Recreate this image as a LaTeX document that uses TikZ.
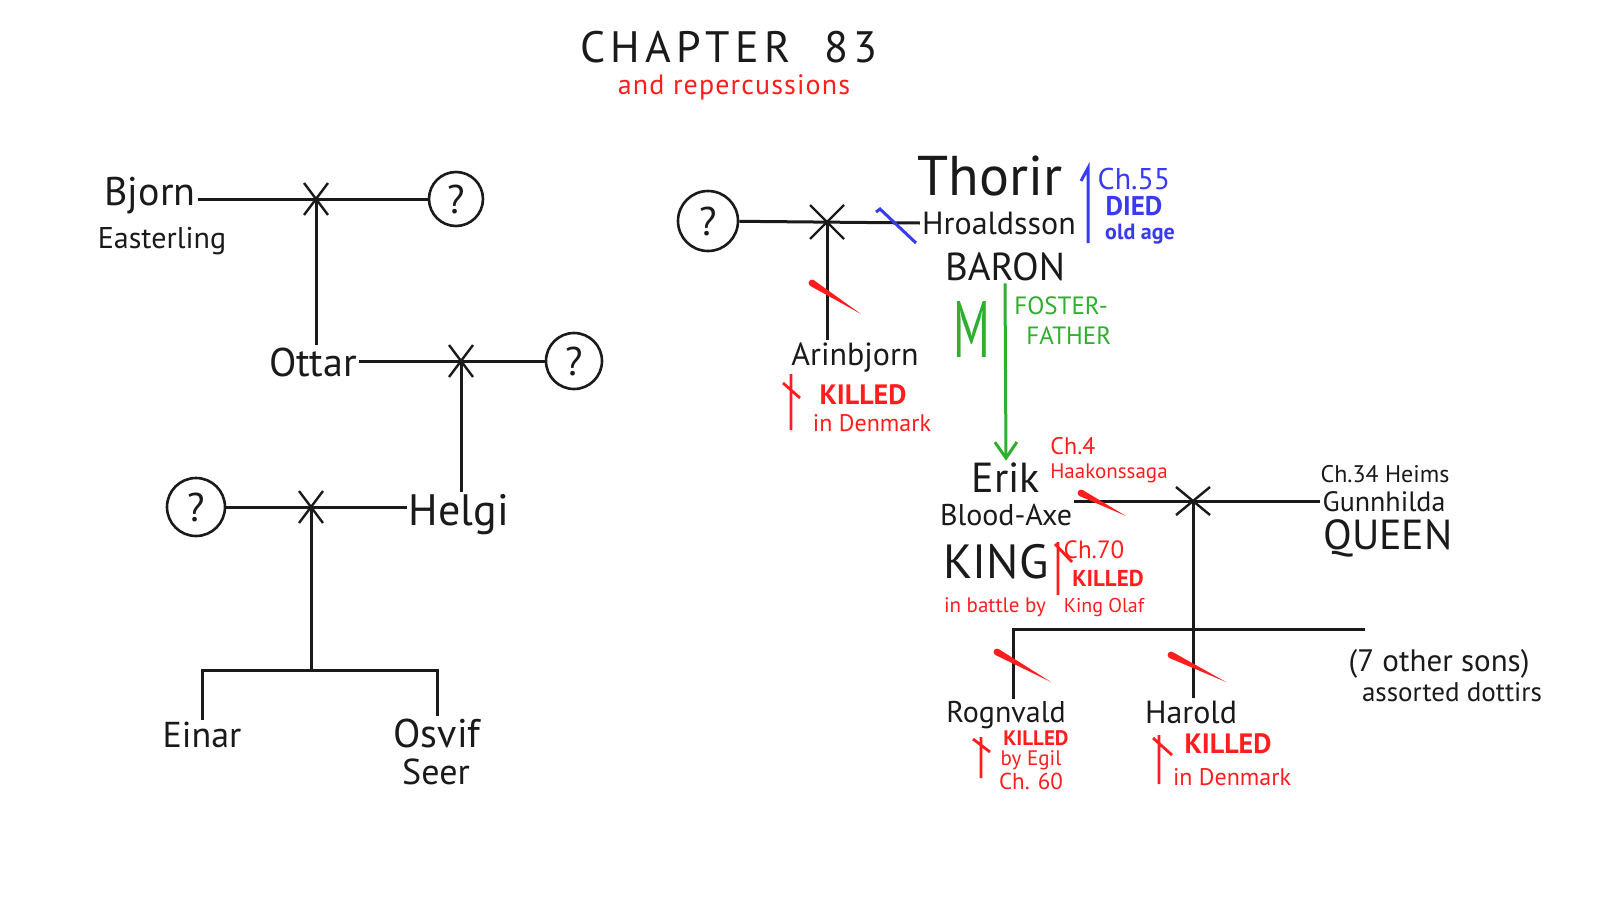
\documentclass[tikz,border=0pt]{standalone}
\usepackage{fontspec}
\setmainfont{PT Sans}
\usetikzlibrary{arrows.meta,positioning,shapes.misc,calc}
\definecolor{ink}{HTML}{1A1A1A}
\definecolor{kill}{HTML}{FF1E1E}
\definecolor{sky}{HTML}{3A3AF5}
\definecolor{fgreen}{HTML}{2EB02E}
\newcommand{\fsz}[1]{\fontsize{#1}{#1}\selectfont}
\newcommand{\slashmark}[2]{\fill[kill] ($#1!1.7pt!90:#2$) -- #2 -- ($#1!1.7pt!-90:#2$) -- cycle;
    \fill[kill] #1 circle[radius=1.7pt];}

\begin{document}
\begin{tikzpicture}[
    x=0.5pt, y=-0.5pt,
    kin/.style={draw=ink, line width=1.5pt},
    wed/.style={cross out, draw=ink, line width=1.2pt, inner sep=0pt, outer sep=0pt,
        minimum width=12pt, minimum height=16pt},
    unk/.style={circle, draw=ink, line width=1.3pt, inner sep=0pt, minimum size=27pt,
        text=ink, font=\fsz{20}},
    person/.style={inner sep=1pt, text=ink, text depth=0pt},
    note/.style={inner sep=0pt, text=kill},
    blue/.style={inner sep=0pt, text=sky},
    dag/.style={draw=kill, line width=1.4pt},
    foster/.style={draw=fgreen, line width=1.5pt, -{Straight Barb[length=8pt,width=11pt]}}
]
\fill[white] (0,0) rectangle (1600,900);
\useasboundingbox (0,0) rectangle (1600,900);
% Title
\node[text=ink, font=\fsz{22}\addfontfeatures{LetterSpace=12}] (title) at (729,47) {CHAPTER~~83};
\node[note, font=\fsz{14}\addfontfeatures{LetterSpace=4}] (sub) at (734,87) {and~repercussions};
% Bjorn Easterling
\node[person, font=\fsz{20}] (bjorn) at (150,191) {Bjorn};
\node[person, font=\fsz{15}] (east) at (162,238) {Easterling};
\node[wed] (w1) at (316,199) {};
\node[unk] (q1) at (456,199) {?};
\draw[kin] (bjorn.east |- w1) -- (q1);
% Ottar
\node[person, font=\fsz{20}] (ottar) at (313,362) {Ottar};
\draw[kin] (w1.center) -- (w1.center |- ottar.north);
\node[wed] (w2) at (461,361) {};
\node[unk, minimum size=28pt] (q2) at (574,361) {?};
\draw[kin] (ottar.east |- w2) -- (q2);
% Helgi
\node[person, font=\fsz{22}] (helgi) at (459,510) {Helgi};
\draw[kin] (w2.center) -- (w2.center |- helgi.north);
\node[wed] (w3) at (311,507) {};
\node[unk, minimum size=29pt] (q3) at (196,507) {?};
\draw[kin] (q3) -- (helgi.west |- w3);
% Einar and Osvif
\coordinate (br1) at (311,670);
\node[person, font=\fsz{18}] (einar) at (202,735) {Einar};
\node[person, font=\fsz{20}] (osvif) at (437,733) {Osvif};
\node[person, font=\fsz{18}] (seer) at (436,772) {Seer};
\draw[kin] (w3.center) -- (br1);
\draw[kin] (einar.north) |- (br1) -| (osvif.north);
% Thorir Hroaldsson
\node[unk, minimum size=30pt] (q4) at (708,221) {?};
\node[wed, minimum width=17pt, minimum height=17pt] (w4) at (827,222) {};
\node[person, font=\fsz{28}] (thorir) at (990,176) {Thorir};
\node[person, font=\fsz{16}] (hro) at (999,223) {Hroaldsson};
\node[person, font=\fsz{19.5}] (baron) at (1005,267) {BARON};
\draw[kin] (q4) -- (hro.west);
\draw[draw=sky, line width=1.5pt] (876,212) -- (880,209) -- (916,243);
\draw[draw=sky, line width=1.5pt] (1081,181) -- (1088,168) -- (1088,243);
\node[blue, font=\fsz{15}] (ch55) at (1134,179) {Ch.55};
\node[blue, font=\fsz{13.5}\bfseries] (died) at (1134,206) {DIED};
\node[blue, font=\fsz{11}\bfseries] (oldage) at (1140,234) {old age};
% Arinbjorn
\node[person, font=\fsz{16}] (arin) at (855,354) {Arinbjorn};
\draw[kin] (w4.center) -- (w4.center |- arin.north);
\slashmark{(812,283)}{(861,314)}
\draw[dag] (791,374) -- (791,430) (783,383) -- (800,398);
\node[note, font=\fsz{14}\bfseries] (killa) at (863,395) {KILLED};
\node[note, font=\fsz{12}] (dena) at (872,423) {in Denmark};
% Erik Blood-Axe
\node[person, font=\fsz{21}] (erik) at (1006,478) {Erik};
\node[person, font=\fsz{15}] (blood) at (1006,515) {Blood-Axe};
\node[person, font=\fsz{24}] (king) at (996,561) {KING};
\node[text=fgreen, inner sep=0pt] (rune) at (972,329) {\scalebox{0.58}[1]{\fsz{40}M}};
\draw[foster] (baron.south) -- (erik.north);
\node[text=fgreen, inner sep=0pt, anchor=west, align=left, font=\fsz{12.5}] (fost) at (1014,321)
    {FOSTER-\\[2.5pt]\hspace*{6pt}FATHER};
\node[note, font=\fsz{12}] (ch4) at (1073,446) {Ch.4};
\node[note, font=\fsz{10.5}] (haak) at (1109,473) {Haakonssaga};
\draw[dag] (1058,542) -- (1058,595) (1055,544) -- (1072,562);
\node[note, font=\fsz{12.5}] (ch70) at (1094,550) {Ch.70};
\node[note, font=\fsz{11.5}\bfseries] (killk) at (1108,578) {KILLED};
\node[note, font=\fsz{10.5}] (battle) at (995,607) {in battle by};
\node[note, font=\fsz{10}] (olaf) at (1104,607) {King Olaf};
% Gunnhilda
\node[person, font=\fsz{12}] (heims) at (1385,474) {Ch.34 Heims};
\node[person, font=\fsz{14}] (gunn) at (1384,502) {Gunnhilda};
\node[person, font=\fsz{21}] (queen) at (1388,535) {QUEEN};
\node[wed, minimum width=17pt, minimum height=14pt] (w5) at (1193,501) {};
\draw[kin] (blood.east |- w5) -- (gunn.west |- w5);
\slashmark{(1081,493)}{(1126,516)}
% Sons of Erik
\node[person, font=\fsz{15}] (rog) at (1006,712) {Rognvald};
\node[person, font=\fsz{16}] (harold) at (1191,712) {Harold};
\coordinate (br2) at (1013,629);
\coordinate (br2e) at (1365,629);
\draw[kin] (w5.center) -- (w5.center |- harold.north);
\draw[kin] (br2 |- rog.north) -- (br2) -- (br2e);
\slashmark{(997,652)}{(1051,682)}
\slashmark{(1171,655)}{(1226,682)}
\node[person, font=\fsz{15.5}] (sons) at (1439,660) {(7 other sons)};
\node[person, font=\fsz{13.5}] (dottirs) at (1452,692) {assorted dottirs};
% Rognvald and Harold killed
\draw[dag] (981,737) -- (981,778) (973,739) -- (990,752);
\node[note, font=\fsz{10.5}\bfseries] (killr) at (1036,738) {KILLED};
\node[note, font=\fsz{10.5}] (egil) at (1031,760) {by Egil};
\node[note, font=\fsz{11.5}] (ch60) at (1031,781) {Ch. 60};
\draw[dag] (1159,735) -- (1159,784) (1153,738) -- (1172,755);
\node[note, font=\fsz{14}\bfseries] (killh) at (1228,744) {KILLED};
\node[note, font=\fsz{12}] (denh) at (1232,777) {in Denmark};
\end{tikzpicture}
\end{document}
